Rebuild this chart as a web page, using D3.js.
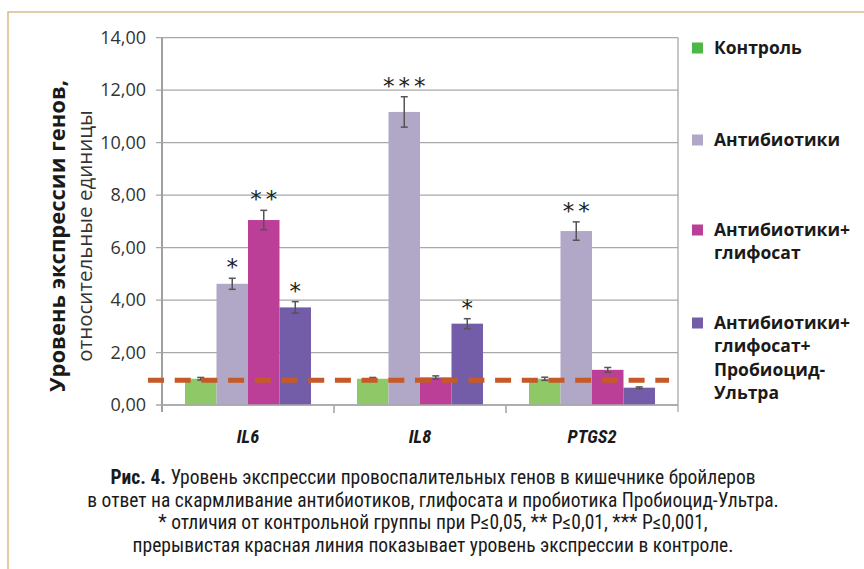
<!DOCTYPE html>
<html><head><meta charset="utf-8">
<script src="https://cdn.jsdelivr.net/npm/d3@7"></script>
<style>body{margin:0;background:#fff}svg{display:block}</style>
</head><body>
<script>
const genes = ["IL6", "IL8", "PTGS2"];
const groups = ["Контроль", "Антибиотики", "Антибиотики+глифосат", "Антибиотики+глифосат+Пробиоцид-Ультра"];
const legendLines = [["Контроль"], ["Антибиотики"], ["Антибиотики+", "глифосат"], ["Антибиотики+", "глифосат+", "Пробиоцид-", "Ультра"]];
const control = [1.00, 1.00, 1.00];
const antibiotics = [4.62, 11.17, 6.63];
const antiGly = [7.05, 1.05, 1.34];
const antiGlyProbio = [3.72, 3.10, 0.66];
const errControl = [0.05, 0.05, 0.06];
const errAnti = [0.21, 0.58, 0.35];
const errAntiGly = [0.37, 0.06, 0.09];
const errAntiGlyProbio = [0.22, 0.19, 0.03];
const stars = [["", "*", "**", "*"], ["", "***", "", "*"], ["", "**", "", ""]];
const yTicks = [0, 2, 4, 6, 8, 10, 12, 14];
const controlLevel = 1.0;
const captionLines = [
  ["Рис. 4.", " Уровень экспрессии провоспалительных генов в кишечнике бройлеров"],
  ["", "в ответ на скармливание антибиотиков, глифосата и пробиотика Пробиоцид-Ультра."],
  ["", "* отличия от контрольной группы при P≤0,05, ** P≤0,01, *** P≤0,001,"],
  ["", "прерывистая красная линия показывает уровень экспрессии в контроле."]
];

const series = [control, antibiotics, antiGly, antiGlyProbio];
const errs = [errControl, errAnti, errAntiGly, errAntiGlyProbio];
const barColors = ["#8fc866", "#b0a8c6", "#bb3f96", "#735ca8"];
const legendColors = ["#4cb848", "#b0a8c6", "#bb3f96", "#735ca8"];

const W = 864, H = 569;
const svg = d3.select("body").append("svg").attr("width", W).attr("height", H);
const font = "'Open Sans', 'Noto Sans', sans-serif";
const narrow = "'Liberation Sans Narrow', 'Roboto Condensed', 'Roboto', sans-serif";

// frame
svg.append("path").attr("d", `M8,${H} V12 H${W}`).attr("fill", "none").attr("stroke", "#d8bc8a").attr("stroke-width", 1.5);

const pLeft = 162, pRight = 678, pTop = 37.7, pBottom = 405;
const x = d3.scaleBand().domain(genes).range([pLeft, pRight]).paddingInner(0).paddingOuter(0);
const y = d3.scaleLinear().domain([0, 14]).range([pBottom, pTop]);
const inner = d3.scaleBand().domain(d3.range(4)).range([23, x.bandwidth() - 23]);

// gridlines
svg.append("g").selectAll("line").data(yTicks).join("line")
  .attr("x1", pLeft - 6).attr("x2", pRight).attr("y1", d => y(d)).attr("y2", d => y(d))
  .attr("stroke", "#a8a8a8").attr("stroke-width", 1.3);

// y labels
const fmt = d => d3.format(".2f")(d).replace(".", ",");
svg.append("g").selectAll("text").data(yTicks).join("text")
  .attr("x", 146).attr("y", d => y(d)).attr("dy", "0.35em").attr("text-anchor", "end")
  .attr("font-family", font).attr("font-size", 18).attr("fill", "#333").text(fmt);

// axes lines
svg.append("line").attr("x1", pLeft).attr("x2", pLeft).attr("y1", pTop).attr("y2", pBottom + 7).attr("stroke", "#a0a0a0").attr("stroke-width", 2);
svg.append("line").attr("x1", pRight).attr("x2", pRight).attr("y1", pTop).attr("y2", pBottom + 7).attr("stroke", "#a8a8a8").attr("stroke-width", 1.3);
svg.append("g").selectAll("line").data(genes.slice(1)).join("line")
  .attr("x1", d => x(d)).attr("x2", d => x(d)).attr("y1", pBottom).attr("y2", pBottom + 8)
  .attr("stroke", "#a0a0a0").attr("stroke-width", 1.5);

// bars
const gg = svg.append("g").selectAll("g").data(genes).join("g").attr("transform", d => `translate(${x(d)},0)`);
gg.selectAll("rect").data((g, gi) => series.map((s, si) => ({si, v: s[gi]}))).join("rect")
  .attr("x", d => inner(d.si)).attr("width", inner.bandwidth())
  .attr("y", d => y(d.v)).attr("height", d => y(0) - y(d.v)).attr("fill", d => barColors[d.si]);
svg.append("line").attr("x1", pLeft).attr("x2", pRight).attr("y1", pBottom).attr("y2", pBottom).attr("stroke", "#a8a8a8").attr("stroke-width", 1.5);

// error bars
const eb = gg.selectAll("g.eb").data((g, gi) => series.map((s, si) => ({si, v: s[gi], e: errs[si][gi], st: stars[gi][si]}))).join("g").attr("class", "eb");
const cx = d => inner(d.si) + inner.bandwidth() / 2;
eb.append("line").attr("x1", cx).attr("x2", cx)
  .attr("y1", d => y(d.v - d.e)).attr("y2", d => y(d.v + d.e)).attr("stroke", "#555").attr("stroke-width", 1.5);
eb.append("line").attr("x1", d => cx(d) - 3.5).attr("x2", d => cx(d) + 3.5)
  .attr("y1", d => y(d.v + d.e)).attr("y2", d => y(d.v + d.e)).attr("stroke", "#555").attr("stroke-width", 1.5);
eb.append("line").attr("x1", d => cx(d) - 3.5).attr("x2", d => cx(d) + 3.5)
  .attr("y1", d => y(d.v - d.e)).attr("y2", d => y(d.v - d.e)).attr("stroke", "#555").attr("stroke-width", 1.5);
eb.append("text").attr("x", d => cx(d) + 2).attr("y", d => y(d.v + d.e) - 3)
  .attr("text-anchor", "middle").attr("font-family", "'DejaVu Sans', sans-serif").attr("font-size", 23)
  .attr("letter-spacing", 4).attr("fill", "#222")
  .text(d => d.st);

// control dashed line
svg.append("line").attr("x1", 148).attr("x2", 669).attr("y1", y(controlLevel) + 1.5).attr("y2", y(controlLevel) + 1.5)
  .attr("stroke", "#c55a28").attr("stroke-width", 5).attr("stroke-dasharray", "16,10.7");

// x labels
svg.append("g").selectAll("text").data(genes).join("text")
  .attr("x", d => x(d) + x.bandwidth() / 2).attr("y", 443).attr("text-anchor", "middle")
  .attr("font-family", narrow).attr("font-weight", "bold").attr("font-style", "italic").attr("font-size", 18.5)
  .attr("fill", "#1a1a1a").text(d => d);

// y title
const yt = svg.append("text").attr("transform", "translate(0,236) rotate(-90)").attr("text-anchor", "middle").attr("font-family", font).attr("fill", "#1a1a1a");
yt.append("tspan").attr("x", 0).attr("y", 65).attr("font-weight", "bold").attr("font-size", 22).text("Уровень экспрессии генов,");
yt.append("tspan").attr("x", 0).attr("y", 92).attr("font-size", 20.5).attr("fill", "#333").text("относительные единицы");

// legend
const legY = [48, 140, 230, 323];
const lg = svg.append("g").selectAll("g").data(groups).join("g").attr("transform", (d, i) => `translate(692,${legY[i]})`);
lg.append("rect").attr("x", 0).attr("y", -5.5).attr("width", 11).attr("height", 11).attr("fill", (d, i) => legendColors[i]);
lg.append("text").attr("font-family", font).attr("font-weight", "bold").attr("font-size", 17.5).attr("fill", "#1a1a1a")
  .selectAll("tspan").data((d, i) => legendLines[i]).join("tspan")
  .attr("x", 22).attr("y", (d, j) => j * 23.3).attr("dy", "0.35em").text(d => d);

// caption
const cap = svg.append("g");
captionLines.forEach((ln, i) => {
  const t = cap.append("text").attr("x", 433).attr("y", 484 + i * 22.6).attr("text-anchor", "middle")
    .attr("font-family", narrow).attr("font-size", 19.5).attr("fill", "#1a1a1a");
  if (ln[0]) t.append("tspan").attr("font-weight", "bold").text(ln[0]);
  t.append("tspan").text(ln[1]);
});
</script>
</body></html>
